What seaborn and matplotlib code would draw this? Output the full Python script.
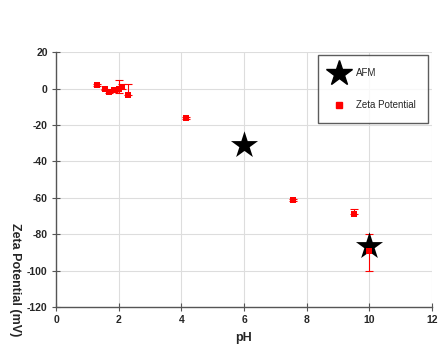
"""Zeta potential vs pH with AFM points"""
import seaborn as sns
import matplotlib.pyplot as plt
from matplotlib.lines import Line2D

zeta_ph = [1.3, 1.55, 1.7, 1.85, 2.0, 2.1, 2.3, 4.15, 7.55, 9.5, 10.0]
zeta_mv = [2.0, -0.5, -2.0, -1.0, 0.0, 0.8, -3.6, -16.0, -61.0, -69.0, -89.0]
zeta_err_low = [0.5, 0.5, 0.5, 1.0, 2.5, 1.0, 0.0, 0.5, 0.5, 0.0, 11.0]
zeta_err_high = [0.5, 0.5, 0.5, 1.0, 4.5, 1.5, 6.0, 0.5, 0.5, 3.0, 9.0]

afm_ph = [6.0, 10.0]
afm_mv = [-31.0, -86.5]

x_ticks = [0, 2, 4, 6, 8, 10, 12]
y_ticks = [20, 0, -20, -40, -60, -80, -100, -120]

sns.set_style("whitegrid")
plt.rcParams['font.family'] = ['Liberation Sans', 'DejaVu Sans']
plt.rcParams['axes.unicode_minus'] = False

fig = plt.figure(figsize=(4.46, 3.45), dpi=100)
ax = fig.add_axes([0.1256, 0.110, 0.843, 0.739])

ax.errorbar(zeta_ph, zeta_mv, yerr=[zeta_err_low, zeta_err_high], fmt='none',
            ecolor='red', elinewidth=0.8, capsize=3, capthick=0.8, zorder=2)
sns.scatterplot(x=afm_ph, y=afm_mv, ax=ax, marker='*', color='black', s=420,
                edgecolor='black', linewidth=0, zorder=3)
sns.scatterplot(x=zeta_ph, y=zeta_mv, ax=ax, marker='s', color='red', s=22,
                edgecolor='red', linewidth=0, zorder=4)

ax.set_xlim(0, 12)
ax.set_ylim(-120, 20)
ax.set_xticks(x_ticks)
ax.set_yticks(y_ticks)
ax.tick_params(axis='both', labelsize=7.5, direction='inout', length=6,
               width=0.8, color='#555555', pad=3, left=True, bottom=True)
for lab in ax.get_xticklabels() + ax.get_yticklabels():
    lab.set_fontweight('bold')
ax.grid(True, color='#dddddd', linewidth=0.8)
for side in ['left', 'bottom']:
    ax.spines[side].set_color('#555555')
    ax.spines[side].set_linewidth(1.0)
for side in ['top', 'right']:
    ax.spines[side].set_visible(False)

ax.set_xlabel('pH', fontsize=9, fontweight='bold', labelpad=5)
ax.set_ylabel('')
fig.text(0.034, 0.19, 'Zeta Potential (mV)', rotation=270, fontsize=9,
         fontweight='bold', ha='center', va='center')

handles = [
    Line2D([], [], marker='*', color='black', linestyle='none', markersize=19),
    Line2D([], [], marker='s', color='red', linestyle='none', markersize=4),
]
leg = ax.legend(handles, ['AFM', 'Zeta Potential'], loc='upper right',
                bbox_to_anchor=(0.995, 0.995), fontsize=7, frameon=True,
                fancybox=False, edgecolor='#333333', labelspacing=2.3,
                borderpad=1.3, handletextpad=0.8, borderaxespad=0.2,
                handlelength=1.8)
leg.get_frame().set_linewidth(1.0)

plt.savefig('out.png', dpi=100)
plt.close()
